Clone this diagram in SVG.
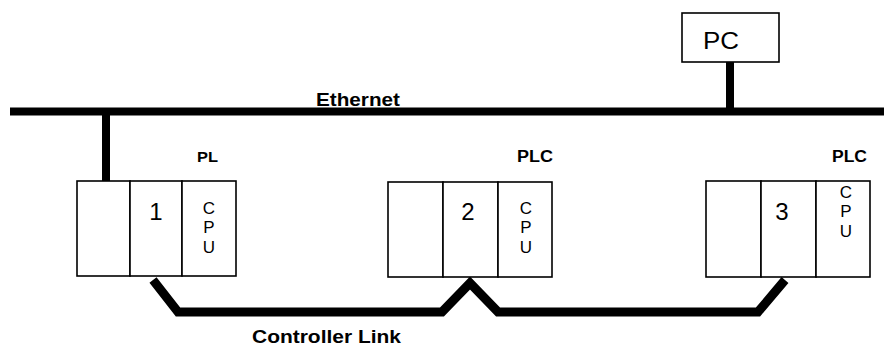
<svg xmlns="http://www.w3.org/2000/svg" width="886" height="347" viewBox="0 0 886 347">
<style>
  .box { fill: #fff; stroke: #000; stroke-width: 1.6; }
  .bus { fill: none; stroke: #000; stroke-width: 8; stroke-linecap: butt; }
  .link { fill: none; stroke: #000; stroke-width: 9; stroke-linejoin: miter; stroke-miterlimit: 10; stroke-linecap: butt; }
  .lbl { font-family: "Liberation Sans", Arial, sans-serif; font-weight: bold; fill: #000; }
  .num { font-family: "Liberation Sans", Arial, sans-serif; font-size: 24px; fill: #000; text-anchor: middle; }
  .cpu { font-family: "Liberation Sans", Arial, sans-serif; font-size: 17px; fill: #000; text-anchor: middle; }
</style>
<rect width="886" height="347" fill="#fff"/>
<g id="connectors">
  <line class="bus" x1="10" y1="111.5" x2="884" y2="111.5"/>
  <line class="bus" x1="106" y1="111.5" x2="106" y2="183"/>
  <line class="bus" x1="730" y1="62" x2="730" y2="111.5"/>
  <polyline class="link" points="153,280 178,312 442,312 470,283 498,312 758,312 785,280"/>
  <text class="lbl" x="316" y="106" font-size="19" textLength="84" lengthAdjust="spacingAndGlyphs">Ethernet</text>
  <text class="lbl" x="252" y="343" font-size="18" textLength="149" lengthAdjust="spacingAndGlyphs">Controller Link</text>
</g>
<g id="pc">
  <rect class="box" x="682" y="13" width="97" height="49"/>
  <text class="num" x="721" y="49" textLength="36" lengthAdjust="spacingAndGlyphs">PC</text>
</g>
<g id="plc1">
  <text class="lbl" x="197" y="162" font-size="15" textLength="21" lengthAdjust="spacingAndGlyphs">PL</text>
  <rect class="box" x="77" y="181" width="53" height="95"/>
  <rect class="box" x="130" y="181" width="52" height="95"/>
  <rect class="box" x="182" y="181" width="54" height="95"/>
  <text class="num" x="156" y="220">1</text>
  <text class="cpu" x="209" y="214">C</text>
  <text class="cpu" x="209" y="233">P</text>
  <text class="cpu" x="209" y="253">U</text>
</g>
<g id="plc2">
  <text class="lbl" x="517" y="162" font-size="16" textLength="36" lengthAdjust="spacingAndGlyphs">PLC</text>
  <rect class="box" x="388" y="182" width="55" height="95"/>
  <rect class="box" x="443" y="182" width="55" height="95"/>
  <rect class="box" x="498" y="182" width="54" height="95"/>
  <text class="num" x="468" y="220">2</text>
  <text class="cpu" x="526" y="214">C</text>
  <text class="cpu" x="526" y="233">P</text>
  <text class="cpu" x="526" y="253">U</text>
</g>
<g id="plc3">
  <text class="lbl" x="832" y="162" font-size="16" textLength="35" lengthAdjust="spacingAndGlyphs">PLC</text>
  <rect class="box" x="706" y="181" width="55" height="96"/>
  <rect class="box" x="761" y="181" width="55" height="96"/>
  <rect class="box" x="816" y="181" width="54" height="96"/>
  <text class="num" x="782" y="220">3</text>
  <text class="cpu" x="846" y="198">C</text>
  <text class="cpu" x="846" y="217">P</text>
  <text class="cpu" x="846" y="237">U</text>
</g>
</svg>
